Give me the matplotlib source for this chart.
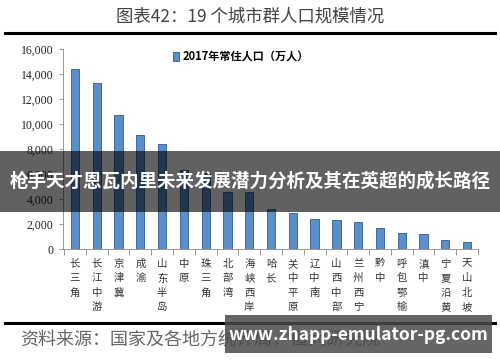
import matplotlib
matplotlib.use("Agg")
import matplotlib.pyplot as plt
from matplotlib.patches import Rectangle
from matplotlib.lines import Line2D
from matplotlib.ticker import FuncFormatter, FixedLocator

plt.rcParams['font.family'] = ['Noto Sans CJK SC', 'DejaVu Sans']

categories = ["长三角", "长江中游", "京津冀", "成渝", "山东半岛", "中原", "珠三角", "北部湾",
              "海峡西岸", "哈长", "关中平原", "辽中南", "山西中部", "兰州西宁", "黔中",
              "呼包鄂榆", "滇中", "宁夏沿黄", "天山北坡"]
population = [14400, 13300, 10750, 9100, 8400, 6300, 6050, 4600, 4550, 3200, 2850, 2400,
              2350, 2130, 1680, 1280, 1230, 720, 560]
yticks = [0, 2000, 4000, 6000, 8000, 10000, 12000, 14000, 16000]
title = "图表42：19 个城市群人口规模情况"
legend_label = "2017年常住人口（万人）"
banner = "枪手天才恩瓦内里未来发展潜力分析及其在英超的成长路径"
source = "资料来源：国家及各地方统计局，恒大研究院"
watermark = "www.zhapp-emulator-pg.com"

W, H = 500, 362
fig = plt.figure(figsize=(W / 100, H / 100), dpi=100)
fig.patch.set_facecolor("white")

def fx(px):
    return px / W

def fy(py):
    return 1 - py / H

ax = fig.add_axes([fx(63), fy(249), fx(478) - fx(63), fy(49) - fy(249)])
x = list(range(len(categories)))
ax.bar(x, population, width=0.38, color="#5b8fca", edgecolor="#2e5a88", linewidth=0.6,
       label=legend_label)
ax.set_xlim(-0.55, len(categories) - 0.5)
ax.set_ylim(0, 16000)
ax.set_yticks(yticks)
ax.yaxis.set_major_formatter(FuncFormatter(lambda v, p: f"{int(v):,}"))
for lab in ax.get_yticklabels():
    lab.set_fontfamily(["Liberation Serif"])
    lab.set_fontsize(8.5)
    lab.set_color("#222222")
ax.tick_params(axis="y", length=3, width=0.6, color="#888888", pad=4)

ax.set_xticks(x)
ax.set_xticklabels(["\n".join(c) for c in categories], fontsize=7.5, color="#333333",
                   linespacing=1.55, va="top")
ax.tick_params(axis="x", which="major", length=0, pad=7)
ax.xaxis.set_minor_locator(FixedLocator([i - 0.5 for i in range(len(categories) + 1)]))
ax.tick_params(axis="x", which="minor", length=4, width=0.6, color="#888888")

for s in ["top", "right"]:
    ax.spines[s].set_visible(False)
ax.spines["left"].set_color("#888888")
ax.spines["bottom"].set_color("#888888")
ax.spines["left"].set_linewidth(0.6)
ax.spines["bottom"].set_linewidth(0.6)

leg = ax.legend(loc="upper left", bbox_to_anchor=(0.24, 1.045), frameon=False,
                handlelength=0.6, handleheight=0.9, handletextpad=0.3,
                prop={"family": ["Noto Sans CJK SC"], "weight": "bold", "size": 8})

# title and rules
fig.text(0.5, fy(17), title, ha="center", va="center", fontsize=12.5, color="#444444")
fig.add_artist(Line2D([fx(5), fx(495)], [fy(33), fy(33)], color="black", linewidth=2.2))
fig.add_artist(Line2D([fx(5), fx(495)], [fy(323), fy(323)], color="black", linewidth=2.2,
                      zorder=5))
fig.text(fx(20), fy(340), source, ha="left", va="center", fontsize=13, color="#666666",
         style="italic")

# banner overlay
fig.add_artist(Rectangle((0, fy(212)), 1, fy(151) - fy(212), transform=fig.transFigure,
                         facecolor="black", alpha=0.62, edgecolor="none", zorder=10))
fig.text(0.5, fy(181), banner, ha="center", va="center", fontsize=13.3, color="white",
         fontweight="bold", zorder=11)

# watermark box
fig.add_artist(Rectangle((fx(225), fy(353)), fx(492) - fx(225), fy(315) - fy(353),
                         transform=fig.transFigure, facecolor="#4a4a4a", alpha=0.85,
                         edgecolor="none", zorder=10))
fig.text(fx(358), fy(335), watermark, ha="center", va="center", fontsize=12.5,
         color="white", fontweight="bold", zorder=11)

fig.savefig("out.png", dpi=100)
